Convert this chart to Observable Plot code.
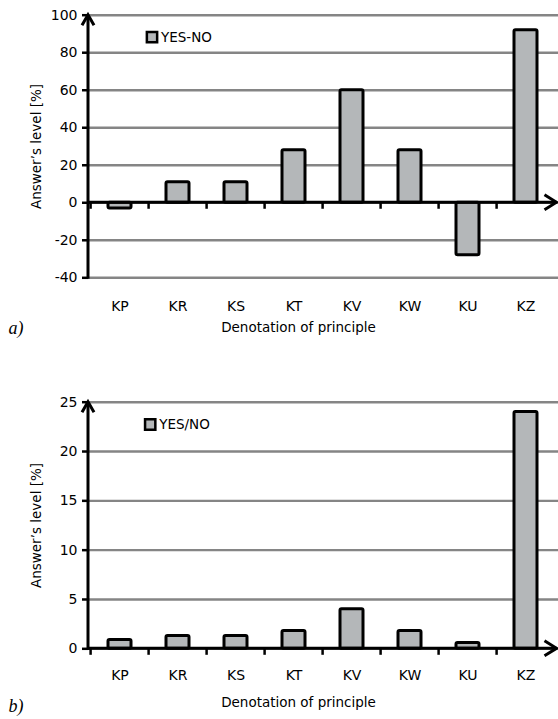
<!DOCTYPE html>
<html>
<head>
<meta charset="utf-8">
<script src="https://cdn.jsdelivr.net/npm/d3@7"></script>
<script src="https://cdn.jsdelivr.net/npm/@observablehq/plot@0.6"></script>
<style>
  html, body { margin: 0; padding: 0; background: #fff; }
  body { width: 558px; height: 719px; position: relative; overflow: hidden; }
  .chart { position: absolute; left: 0; }
  #chartA { top: 0; }
  #chartB { top: 345px; }
</style>
</head>
<body>
<div id="chartA" class="chart"></div>
<div id="chartB" class="chart"></div>
<script>
// ---- data ----
const categories = ["KP", "KR", "KS", "KT", "KV", "KW", "KU", "KZ"];
const valuesA = [-3, 11, 11, 28, 60, 28, -28, 92];
const valuesB = [0.9, 1.3, 1.3, 1.8, 4.0, 1.8, 0.6, 24];
const ticksA = [-40, -20, 0, 20, 40, 60, 80, 100];
const ticksB = [0, 5, 10, 15, 20, 25];
const legendA = "YES-NO";
const legendB = "YES/NO";
const panelA = "a)";
const panelB = "b)";
const xTitle = "Denotation of principle";
const yTitle = "Answer\u2019s level [%]";

const PAD_INNER = 0.6;
const FONT = '"DejaVu Sans", Verdana, sans-serif';

function makeChart(cfg) {
  const data = categories.map((c, i) => ({category: c, value: cfg.values[i]}));
  const domain = [cfg.ticks[0], cfg.ticks[cfg.ticks.length - 1]];

  const axes = (index, scales, values, dims) => {
    const x = scales.x, y = scales.y;
    const step = x(categories[1]) - x(categories[0]);
    const bw = step * (1 - PAD_INNER);
    const left = dims.marginLeft;
    const right = dims.width - dims.marginRight;
    const y0 = y(0);
    const yTop = y(domain[1]);
    const yBot = dims.height - dims.marginBottom;
    const g = d3.create("svg:g")
      .attr("fill", "none")
      .attr("stroke", "black")
      .attr("stroke-width", 3);
    g.append("line").attr("x1", left).attr("x2", right - 1.5)
      .attr("y1", y0).attr("y2", y0);
    categories.forEach(c => {
      const bx = x(c) + bw / 2 - step / 2;
      g.append("line").attr("x1", bx).attr("x2", bx)
        .attr("y1", y0).attr("y2", y0 + 6.5).attr("stroke-width", 2.5);
    });
    const tip = right - 1.5;
    g.append("path").attr("d", `M${tip - 12},${y0 - 7.5}L${tip},${y0}L${tip - 12},${y0 + 7.5}`)
      .attr("stroke-linejoin", "miter");
    g.append("line").attr("x1", left).attr("x2", left)
      .attr("y1", yBot + 1.5).attr("y2", yTop + 1);
    g.append("path").attr("d", `M${left - 6},${yTop + 10.5}L${left},${yTop}L${left + 6},${yTop + 10.5}`)
      .attr("stroke-linejoin", "miter");
    return g.node();
  };

  return Plot.plot({
    width: 558,
    height: cfg.height,
    marginTop: cfg.marginTop,
    marginBottom: cfg.marginBottom,
    marginLeft: 88,
    marginRight: 0,
    style: {fontFamily: FONT, fontSize: "13.5px", background: "white", color: "black", overflow: "visible"},
    x: {domain: categories, paddingInner: PAD_INNER, paddingOuter: PAD_INNER / 2},
    y: {domain},
    marks: [
      Plot.ruleY(cfg.ticks, {stroke: "#858585", strokeWidth: 2.4}),
      Plot.barY(data, {x: "category", y: "value", fill: "#b4b7b9", stroke: "black", strokeWidth: 3, rx: 1.5}),
      Plot.axisY(cfg.ticks, {anchor: "left", tickSize: 6, tickPadding: 5, strokeWidth: 2.5, fontSize: 14,
        label: null, tickFormat: d => String(d)}),
      Plot.axisX({anchor: "bottom", tickSize: 0, tickPadding: cfg.xLabelGap, fontSize: 14, label: null}),
      axes,
      Plot.text([yTitle], {frameAnchor: "left", dx: -51.5, rotate: -90, textAnchor: "middle", lineAnchor: "middle",
        fontSize: 13.5, text: d => d}),
      Plot.text([xTitle], {frameAnchor: "bottom", dx: -25, dy: cfg.titleDy, textAnchor: "middle", lineAnchor: "middle",
        fontSize: 13.5, text: d => d}),
      Plot.text([cfg.panel], {frameAnchor: "bottom-left", textAnchor: "start", lineAnchor: "middle", dx: -80, dy: cfg.panelDy,
        fontFamily: '"Liberation Serif", "Times New Roman", serif', fontStyle: "italic", fontSize: 18, text: d => d}),
      Plot.dot([cfg.legend], {frameAnchor: "top-left", dx: cfg.legendDx, dy: cfg.legendDy, symbol: "square", r: 5.8,
        fill: "#b4b7b9", stroke: "black", strokeWidth: 2.5}),
      Plot.text([cfg.legend], {frameAnchor: "top-left", textAnchor: "start", lineAnchor: "middle",
        dx: cfg.legendDx + 9, dy: cfg.legendDy, fontSize: 13.5, text: d => d})
    ]
  });
}

document.getElementById("chartA").append(makeChart({
  values: valuesA, ticks: ticksA, legend: legendA, panel: panelA,
  height: 345, marginTop: 14.7, marginBottom: 67.7,
  xLabelGap: 23.5, titleDy: 49.4, panelDy: 50, legendDx: 63.5, legendDy: 22
}));
document.getElementById("chartB").append(makeChart({
  values: valuesB, ticks: ticksB, legend: legendB, panel: panelB,
  height: 374, marginTop: 56.7, marginBottom: 70.7,
  xLabelGap: 21.5, titleDy: 53.4, panelDy: 57, legendDx: 61.7, legendDy: 22.3
}));
</script>
</body>
</html>
